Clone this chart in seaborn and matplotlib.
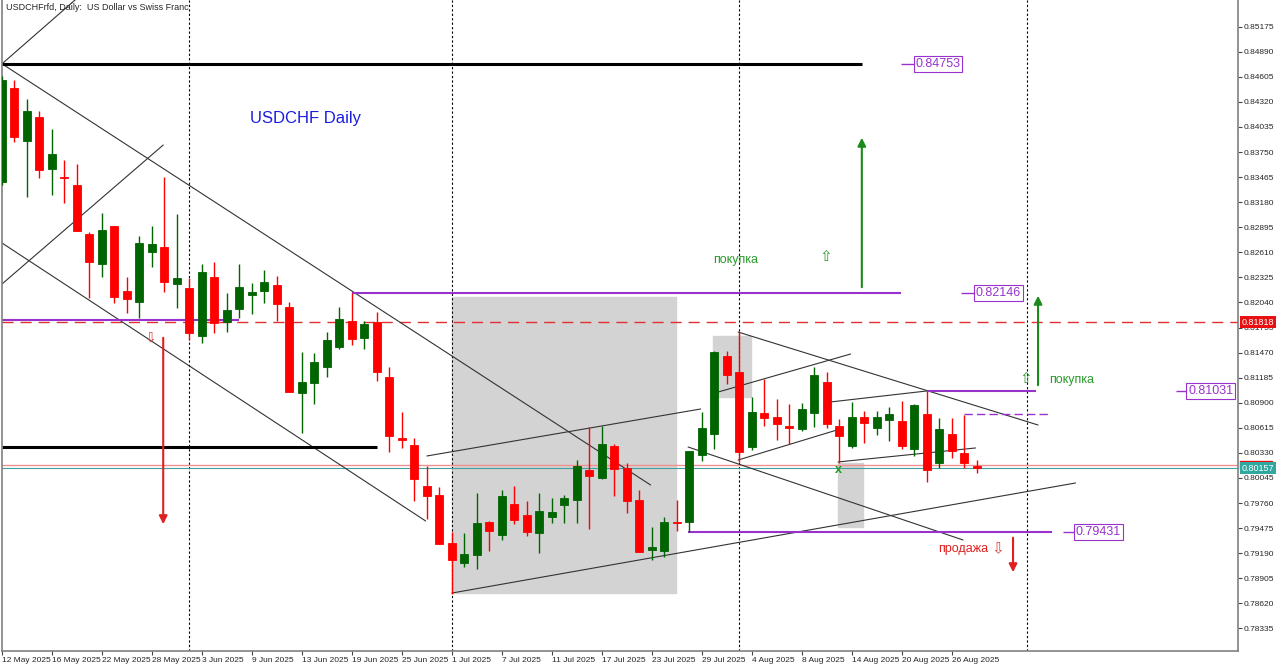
import numpy as np
import pandas as pd
import seaborn as sns
import matplotlib.pyplot as plt
from matplotlib.patches import Rectangle

# daily candles, USDCHF, 12 May - 28 Aug 2025
opens = [0.83413, 0.84482, 0.83879, 0.84145, 0.83554, 0.83466, 0.83375, 0.82815, 0.82474, 0.82909,
         0.82174, 0.82042, 0.82617, 0.82667, 0.82250, 0.82201, 0.81659, 0.82333, 0.81815, 0.81962,
         0.82125, 0.82170, 0.82239, 0.81985, 0.81008, 0.81121, 0.81303, 0.81537, 0.81833, 0.81640,
         0.81821, 0.81189, 0.80494, 0.80423, 0.79957, 0.79848, 0.79309, 0.79082, 0.79169, 0.79544,
         0.79397, 0.79746, 0.79624, 0.79423, 0.79598, 0.79738, 0.79795, 0.80136, 0.80041, 0.80412,
         0.80155, 0.79795, 0.79226, 0.79218, 0.79548, 0.79544, 0.80306, 0.80545, 0.81435, 0.81246,
         0.80400, 0.80780, 0.80735, 0.80639, 0.80598, 0.80787, 0.81139, 0.80636, 0.80412, 0.80742,
         0.80616, 0.80704, 0.80693, 0.80371, 0.80772, 0.80219, 0.80545, 0.80332, 0.80184]
highs = [0.84615, 0.84569, 0.84350, 0.84220, 0.84009, 0.83660, 0.83614, 0.82838, 0.83061, 0.82909,
         0.82326, 0.82796, 0.82913, 0.83470, 0.83046, 0.82318, 0.82477, 0.82500, 0.82144, 0.82477,
         0.82258, 0.82409, 0.82341, 0.82049, 0.81480, 0.81462, 0.81708, 0.81985, 0.82146, 0.81833,
         0.81935, 0.81303, 0.80798, 0.80496, 0.80181, 0.79939, 0.79434, 0.79416, 0.79871, 0.79556,
         0.79908, 0.79954, 0.79787, 0.79878, 0.79814, 0.79851, 0.80249, 0.80621, 0.80636, 0.80431,
         0.80219, 0.79908, 0.79491, 0.79598, 0.79795, 0.80355, 0.80792, 0.81492, 0.81492, 0.81708,
         0.80962, 0.81170, 0.80939, 0.80886, 0.80901, 0.81310, 0.81253, 0.80715, 0.80912, 0.80810,
         0.80810, 0.80848, 0.80920, 0.80886, 0.81031, 0.80723, 0.80723, 0.80761, 0.80249]
lows = [0.83375, 0.83868, 0.83242, 0.83452, 0.83262, 0.83174, 0.82853, 0.82087, 0.82333, 0.82037,
        0.81924, 0.81867, 0.82440, 0.82163, 0.81974, 0.81613, 0.81576, 0.81696, 0.81708, 0.81860,
        0.81909, 0.82031, 0.81833, 0.81019, 0.80553, 0.80886, 0.81196, 0.81511, 0.81557, 0.81511,
        0.81147, 0.80344, 0.80389, 0.79787, 0.79575, 0.79294, 0.78726, 0.79029, 0.79007, 0.79215,
        0.79340, 0.79522, 0.79385, 0.79189, 0.79530, 0.79536, 0.79530, 0.79462, 0.80030, 0.79843,
        0.79650, 0.79207, 0.79112, 0.79150, 0.79446, 0.79431, 0.80241, 0.80371, 0.81113, 0.80230,
        0.80363, 0.80636, 0.80477, 0.80431, 0.80582, 0.80621, 0.80610, 0.80219, 0.80382, 0.80446,
        0.80533, 0.80469, 0.80371, 0.80295, 0.80003, 0.80155, 0.80269, 0.80155, 0.80098]
closes = [0.84569, 0.83925, 0.84220, 0.83546, 0.83724, 0.83455, 0.82853, 0.82497, 0.82864, 0.82106,
          0.82080, 0.82720, 0.82705, 0.82276, 0.82315, 0.81690, 0.82386, 0.81803, 0.81951, 0.82212,
          0.82163, 0.82269, 0.82023, 0.81019, 0.81139, 0.81363, 0.81613, 0.81852, 0.81628, 0.81795,
          0.81246, 0.80522, 0.80482, 0.80030, 0.79843, 0.79294, 0.79112, 0.79177, 0.79536, 0.79446,
          0.79840, 0.79567, 0.79434, 0.79673, 0.79662, 0.79814, 0.80181, 0.80067, 0.80431, 0.80147,
          0.79783, 0.79207, 0.79257, 0.79541, 0.79530, 0.80355, 0.80616, 0.81474, 0.81216, 0.80344,
          0.80792, 0.80723, 0.80655, 0.80610, 0.80826, 0.81216, 0.80655, 0.80525, 0.80742, 0.80673,
          0.80735, 0.80769, 0.80408, 0.80875, 0.80136, 0.80602, 0.80355, 0.80219, 0.80157]

date_labels = ["12 May 2025", "16 May 2025", "22 May 2025", "28 May 2025", "3 Jun 2025",
               "9 Jun 2025", "13 Jun 2025", "19 Jun 2025", "25 Jun 2025", "1 Jul 2025",
               "7 Jul 2025", "11 Jul 2025", "17 Jul 2025", "23 Jul 2025", "29 Jul 2025",
               "4 Aug 2025", "8 Aug 2025", "14 Aug 2025", "20 Aug 2025", "26 Aug 2025"]
date_ticks = [0, 4, 8, 12, 16, 20, 24, 28, 32, 36, 40, 44, 48, 52, 56, 60, 64, 68, 72, 76]
month_breaks = [15, 36, 59, 82]
price_ticks = [0.78335, 0.78620, 0.78905, 0.79190, 0.79475, 0.79760, 0.80045, 0.80330, 0.80615,
               0.80900, 0.81185, 0.81470, 0.81755, 0.82040, 0.82325, 0.82610, 0.82895, 0.83180,
               0.83465, 0.83750, 0.84035, 0.84320, 0.84605, 0.84890, 0.85175]

# drawn objects (bar index, price)
trend_lines = [
    (0, 0.84753, 51.9, 0.79965),
    (0, 0.82716, 33.9, 0.79556),
    (0, 0.84753, 6.5, 0.8556),
    (0, 0.82250, 12.9, 0.83830),
    (34.0, 0.80295, 55.9, 0.80829),
    (36.0, 0.78737, 85.9, 0.79988),
    (54.9, 0.80397, 76.9, 0.79340),
    (58.9, 0.81704, 82.9, 0.80647),
    (57.3, 0.81022, 67.9, 0.81454),
    (58.9, 0.80249, 66.8, 0.80590),
    (66.3, 0.80909, 74.0, 0.81034),
    (66.9, 0.80227, 77.9, 0.80386),
]
black_levels = [(0.84753, 0, 68.8), (0.80397, 0, 30.0)]
magenta_levels = [(0.82146, 28.0, 71.9), (0.81845, 0, 19.0), (0.81031, 74.0, 82.7), (0.79431, 54.9, 84.0)]
level_tags = [(0.84753, 71.9, 73.1), (0.82146, 76.7, 77.9), (0.81031, 93.9, 94.9), (0.79431, 84.9, 85.9)]
zones = [(36.0, 53.9, 0.78737, 0.82102), (56.9, 59.9, 0.80966, 0.81659), (66.9, 68.9, 0.79488, 0.80215)]
ask_price = 0.80192
bid_price = 0.80157
alert_price = 0.81818

up_c, dn_c = "#006400", "#ff0000"
purple = "#9932CC"
green_txt = "#2a9a2a"

sns.set_style("white")
plt.rcParams["font.family"] = ["Liberation Sans", "DejaVu Sans"]

fig = plt.figure(figsize=(12.8, 6.69), dpi=100)
ax = fig.add_axes([2 / 1280, 18 / 669, 1236 / 1280, 651 / 669])

df = pd.DataFrame({"o": opens, "h": highs, "l": lows, "c": closes})
df["i"] = np.arange(len(df))
df["col"] = np.where(df["c"] > df["o"], up_c, dn_c)

for x0, x1, y0, y1 in zones:
    ax.add_patch(Rectangle((x0, y0), x1 - x0, y1 - y0, color="#d3d3d3", zorder=0))

for b in month_breaks:
    ax.axvline(b, color="black", lw=0.8, ls=(0, (2, 2)), zorder=1)

ax.axhline(alert_price, color="#e03030", lw=1, ls=(0, (8, 5)), zorder=1)
ax.axhline(ask_price, color="#f09090", lw=1, zorder=1)
ax.axhline(bid_price, color="#40a0a0", lw=0.8, zorder=1)

for x0, y0, x1, y1 in trend_lines:
    ax.plot([x0, x1], [y0, y1], color="#333333", lw=0.8, zorder=2)

for y, x0, x1 in black_levels:
    ax.hlines(y, x0, x1, color="black", lw=2.2, zorder=2)
for y, x0, x1 in magenta_levels:
    ax.hlines(y, x0, x1, color=purple, lw=1.5, zorder=2)
ax.hlines(0.80772, 77.0, 83.9, color=purple, lw=1, ls=(0, (6, 3)), zorder=2)

for y, x0, x1 in level_tags:
    ax.hlines(y, x0, x1, color=purple, lw=1, zorder=2)
    ax.text(x1, y, f"{y:.5f}", color=purple, fontsize=9, ha="left", va="center",
            bbox=dict(boxstyle="square,pad=0.15", fc="white", ec=purple, lw=0.8), zorder=3)

# candles
ax.vlines(df["i"], df["l"], df["h"], colors=df["col"], lw=1, zorder=4)
ax.bar(df["i"], (df["c"] - df["o"]).abs(), bottom=df[["o", "c"]].min(axis=1), width=0.64,
       color=df["col"], edgecolor=df["col"], linewidth=0.6, zorder=5)

# arrows & notes
arr = dict(arrowstyle="-|>", lw=1.5, mutation_scale=12)
ax.annotate("", xy=(12.9, 0.79488), xytext=(12.9, 0.81670), arrowprops={**arr, "color": "#e02020"}, zorder=6)
ax.annotate("", xy=(68.8, 0.83944), xytext=(68.8, 0.82182), arrowprops={**arr, "color": "#1a8a1a"}, zorder=6)
ax.annotate("", xy=(82.9, 0.82148), xytext=(82.9, 0.81068), arrowprops={**arr, "color": "#1a8a1a"}, zorder=6)
ax.annotate("", xy=(80.9, 0.78942), xytext=(80.9, 0.79397), arrowprops={**arr, "color": "#e02020"}, zorder=6)

ax.text(11.9, 0.8164, "\u21e9", color="#e04040", fontsize=10, ha="center", va="center",
        family="DejaVu Sans", zorder=6)
ax.text(58.7, 0.82523, "покупка", color=green_txt, fontsize=9, ha="center", va="center")
ax.text(65.9, 0.82557, "\u21e7", color=green_txt, fontsize=11, ha="center", va="center", family="DejaVu Sans")
ax.text(85.6, 0.81159, "покупка", color=green_txt, fontsize=9, ha="center", va="center")
ax.text(81.9, 0.81181, "\u21e7", color=green_txt, fontsize=11, ha="center", va="center", family="DejaVu Sans")
ax.text(76.9, 0.79238, "продажа", color="#e02020", fontsize=9, ha="center", va="center")
ax.text(79.7, 0.79238, "\u21e9", color="#e04040", fontsize=11, ha="center", va="center", family="DejaVu Sans")
ax.text(66.9, 0.80136, "x", color="#1a9a1a", fontsize=9, fontweight="bold", ha="center", va="center", zorder=6)
ax.text(24.3, 0.84137, "USDCHF Daily", color="#1c1ce0", fontsize=12, ha="center", va="center")
ax.text(0.003, 0.995, "USDCHFrfd, Daily:  US Dollar vs Swiss Franc", transform=ax.transAxes,
        fontsize=6.5, ha="left", va="top")

# price tags on the axis
yt = ax.get_yaxis_transform()
ax.text(1.003, alert_price, f"{alert_price:.5f}", transform=yt, color="white", fontsize=6.5,
        ha="left", va="center", bbox=dict(boxstyle="square,pad=0.15", fc="#e81010", ec="none"),
        clip_on=False, zorder=7)
ax.add_patch(Rectangle((1.002, ask_price - 0.0005), 0.0255, 0.001, transform=yt, color="#e81010",
                       clip_on=False, zorder=7))
ax.text(1.003, bid_price, f"{bid_price:.5f}", transform=yt, color="white", fontsize=6.5,
        ha="left", va="center", bbox=dict(boxstyle="square,pad=0.15", fc="#30a8a0", ec="none"),
        clip_on=False, zorder=8)

ax.set_xlim(0.04, 98.9)
ax.set_ylim(0.78078, 0.854785)
ax.yaxis.tick_right()
ax.set_yticks(price_ticks)
ax.set_yticklabels([f"{p:.5f}" for p in price_ticks], fontsize=6)
ax.set_xticks(date_ticks)
ax.set_xticklabels(date_labels, fontsize=6, ha="left")
ax.tick_params(axis="both", length=3, width=0.8, color="#444444", pad=1, direction="out")
ax.tick_params(axis="y", right=True, left=False, labelright=True, labelleft=False)
ax.tick_params(axis="x", bottom=True)

for side in ["left", "right", "bottom"]:
    ax.spines[side].set_color("#808080")
    ax.spines[side].set_linewidth(1.2)
ax.spines["top"].set_visible(False)

fig.savefig("out.png", dpi=100, facecolor="white")
